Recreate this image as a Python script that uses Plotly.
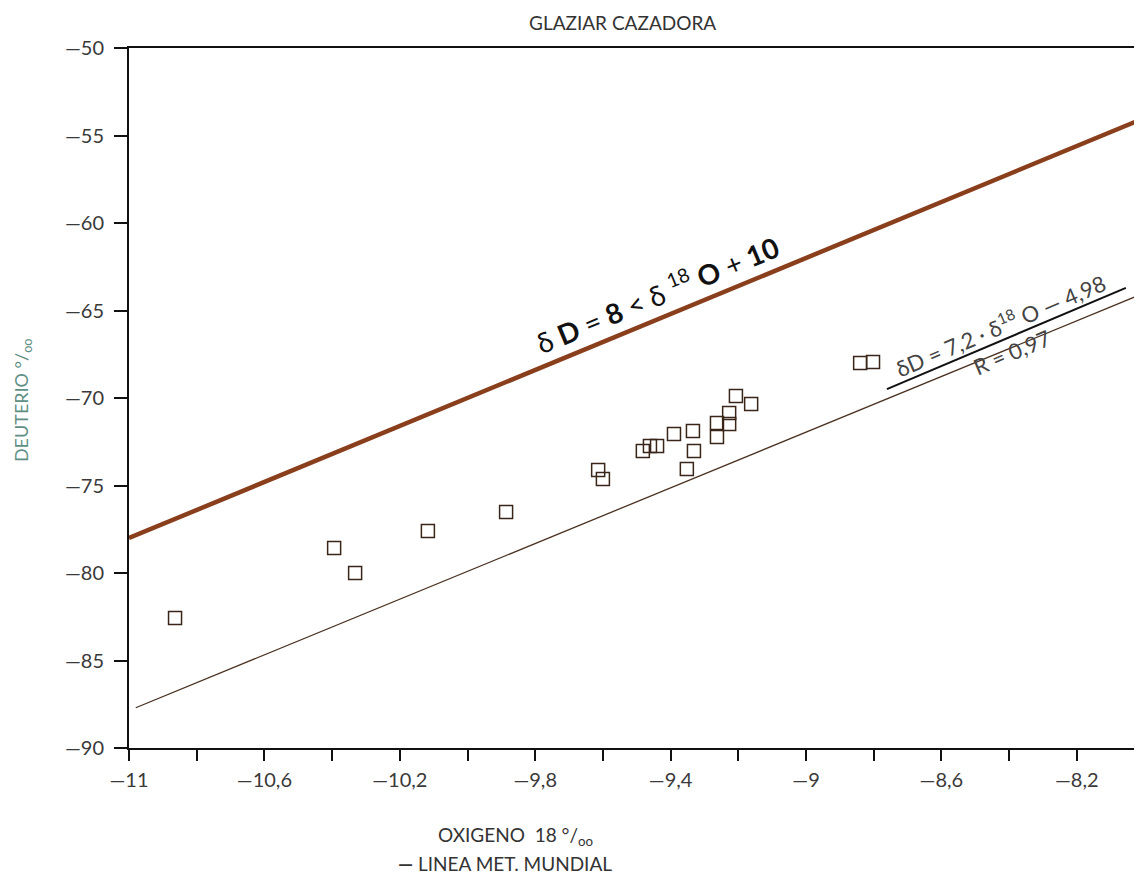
import plotly.graph_objects as go

# ---- data ----
oxigeno = [-10.864, -10.394, -10.332, -10.117, -9.886,
           -9.614, -9.600, -9.482, -9.461, -9.440, -9.390, -9.334,
           -9.331, -9.352, -9.263, -9.263, -9.227, -9.227, -9.207,
           -9.162, -8.840, -8.802]
deuterio = [-82.57, -78.57, -80.00, -77.60, -76.51,
            -74.11, -74.63, -73.03, -72.74, -72.74, -72.06, -71.89,
            -73.03, -74.06, -71.43, -72.23, -70.86, -71.49, -69.89,
            -70.34, -68.00, -67.94]

# Linea meteorica mundial: dD = 8 * d18O + 10
gmwl_x = [-11.0, -8.0]
gmwl_y = [8 * v + 10 for v in gmwl_x]

# regression line as drawn
reg_x = [-10.98, -8.0]
reg_y = [-87.7, -64.0]

x_tickvals = [-11.0, -10.6, -10.2, -9.8, -9.4, -9.0, -8.6, -8.2]
x_ticktext = ["—11", "—10,6", "—10,2", "—9,8", "—9,4", "—9", "—8,6", "—8,2"]
y_tickvals = [-50, -55, -60, -65, -70, -75, -80, -85, -90]
y_ticktext = ["—50", "—55", "—60", "—65", "—70", "—75", "—80", "—85", "—90"]

FONT = "Lato, 'Open Sans', sans-serif"
TXT = "#3a3a3a"

fig = go.Figure()
fig.add_trace(go.Scatter(x=gmwl_x, y=gmwl_y, mode="lines",
                         line=dict(color="#8a3f1c", width=4.5), showlegend=False))
fig.add_trace(go.Scatter(x=reg_x, y=reg_y, mode="lines",
                         line=dict(color="#4a3222", width=1.3), showlegend=False))
fig.add_trace(go.Scatter(x=oxigeno, y=deuterio, mode="markers",
                         marker=dict(symbol="square-open", size=13,
                                     color="#3a2618", line=dict(width=1.5)),
                         showlegend=False))

# fraction bar of the regression equation
fig.add_shape(type="line", xref="x", yref="y",
              x0=-8.761, y0=-69.49, x1=-8.055, y1=-63.71,
              line=dict(color="#111111", width=2))

fig.update_layout(
    width=1126, height=868,
    margin=dict(l=121, r=0, t=40, b=128),
    plot_bgcolor="white", paper_bgcolor="white",
    font=dict(family=FONT, color=TXT, size=20),
    xaxis=dict(range=[-11.0, -8.031], showgrid=False, zeroline=False,
               showline=True, linecolor="#111111", linewidth=2, mirror=True,
               ticks="outside", ticklen=11, tickwidth=1.5, tickcolor="#111111",
               tickvals=x_tickvals, ticktext=x_ticktext,
               minor=dict(ticks="outside", tick0=-11.0, dtick=0.2, ticklen=11,
                          tickwidth=1.5, tickcolor="#111111"),
               tickfont=dict(size=20, color=TXT), ticklabelstandoff=2,
               automargin=False),
    yaxis=dict(range=[-90, -50], showgrid=False, zeroline=False,
               showline=True, linecolor="#111111", linewidth=2,
               ticks="outside", ticklen=13, tickwidth=1.5, tickcolor="#111111",
               tickvals=y_tickvals, ticktext=y_ticktext,
               tickfont=dict(size=20, color=TXT), ticklabelstandoff=6,
               automargin=False),
    annotations=[
        dict(text="GLAZIAR CAZADORA", xref="paper", yref="paper",
             x=0.4906, y=1.037, showarrow=False, xanchor="center",
             yanchor="middle", font=dict(size=19, color="#333333")),
        dict(text="DEUTERIO °/<sub>oo</sub>", xref="paper", yref="paper",
             x=-0.1065, y=0.497, showarrow=False, textangle=-90,
             xanchor="center", yanchor="middle",
             font=dict(size=18, color="#5f8f85")),
        dict(text="OXIGENO  18 °/<sub>oo</sub>", xref="paper", yref="paper",
             x=0.3055, y=-0.1257, showarrow=False, xanchor="left",
             yanchor="middle", font=dict(size=19, color="#333333")),
        dict(text="<b>—</b> LINEA MET. MUNDIAL", xref="paper", yref="paper",
             x=0.2657, y=-0.1657, showarrow=False, xanchor="left",
             yanchor="middle", font=dict(size=19, color="#333333")),
        dict(text="δ <b>D</b> = <b>8</b> < δ <sup>18</sup> <b>O</b> + <b>10</b>",
             xref="x", yref="y", x=-9.44, y=-64.0, showarrow=False,
             textangle=-22.5, xanchor="center", yanchor="middle",
             font=dict(size=28, color="#111111")),
        dict(text="δD = 7,2 · δ<sup>18</sup> O — 4,98<br>R = 0,97",
             xref="x", yref="y", x=-8.409, y=-66.57, showarrow=False,
             textangle=-23, xanchor="center", yanchor="middle",
             font=dict(size=22, color="#444444")),
    ],
)

fig.write_html("out.html")
